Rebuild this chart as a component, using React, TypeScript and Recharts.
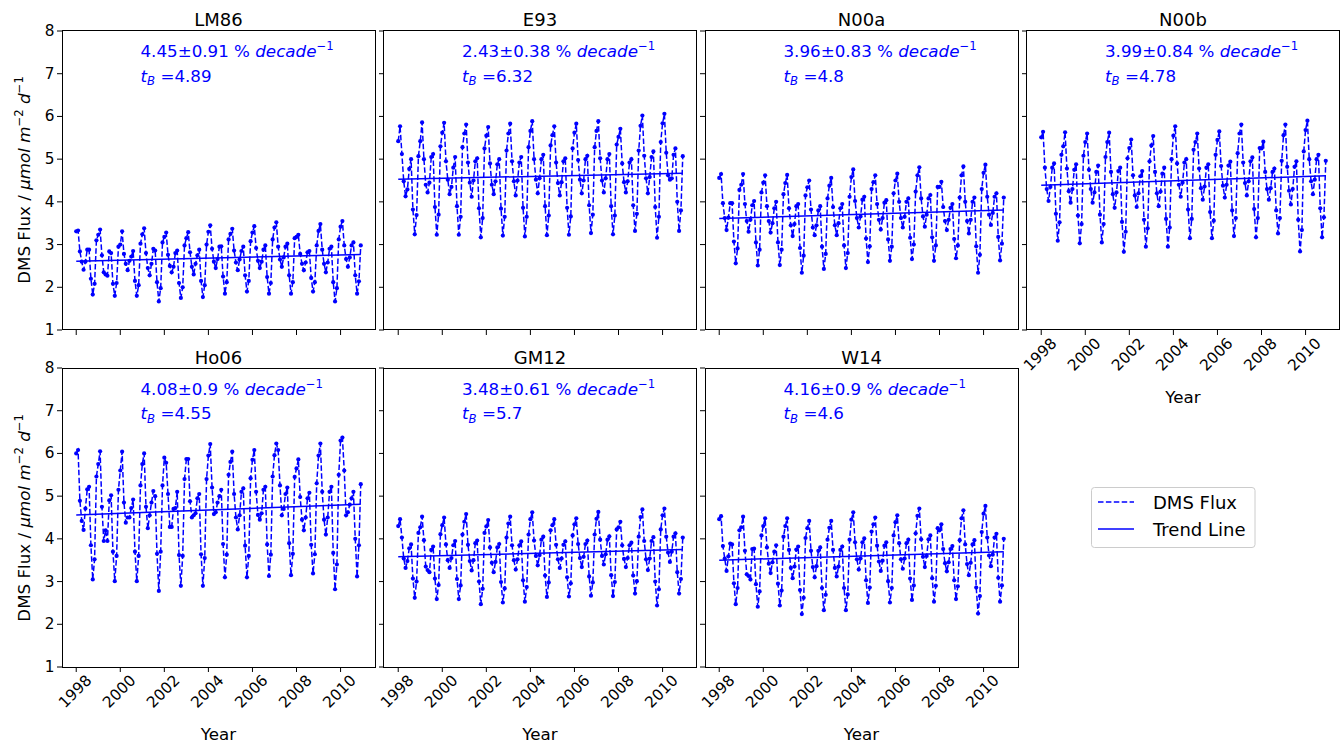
import React from 'react';
import { LineChart, Line, XAxis, YAxis } from 'recharts';

const YEARS = [1998, 1999, 2000, 2001, 2002, 2003, 2004, 2005, 2006, 2007, 2008, 2009, 2010];
const X_TICKS = [1998, 2000, 2002, 2004, 2006, 2008, 2010];
const Y_TICKS = [1, 2, 3, 4, 5, 6, 7, 8];

const lm86Flux = [
  3.31, 3.33, 2.84, 2.60, 2.41, 2.60, 2.88, 2.88, 2.20, 1.83, 2.08, 3.10,
  3.23, 3.35, 2.75, 2.35, 2.30, 2.27, 2.84, 2.80, 2.08, 1.80, 2.10, 2.95,
  3.00, 3.31, 2.78, 2.55, 2.40, 2.62, 2.72, 2.85, 2.15, 1.80, 2.05, 3.02,
  3.24, 3.38, 2.80, 2.45, 2.28, 2.55, 2.90, 2.86, 2.12, 1.67, 1.98, 3.05,
  3.18, 3.28, 2.76, 2.50, 2.35, 2.48, 2.80, 2.86, 2.10, 1.75, 2.00, 2.98,
  3.15, 3.29, 2.82, 2.48, 2.30, 2.55, 2.75, 2.88, 2.15, 1.77, 2.05, 3.00,
  3.30, 3.45, 2.90, 2.60, 2.45, 2.66, 2.95, 2.96, 2.25, 1.85, 2.12, 3.12,
  3.25, 3.37, 2.86, 2.58, 2.40, 2.65, 2.85, 2.95, 2.28, 1.90, 2.15, 3.08,
  3.28, 3.43, 2.92, 2.62, 2.45, 2.60, 2.88, 2.98, 2.24, 1.85, 2.10, 3.12,
  3.40, 3.52, 2.95, 2.65, 2.48, 2.70, 2.95, 3.02, 2.28, 1.85, 2.12, 3.15,
  3.18, 3.23, 2.78, 2.55, 2.40, 2.58, 2.82, 2.85, 2.22, 1.90, 2.12, 2.98,
  3.32, 3.48, 2.88, 2.55, 2.35, 2.58, 2.90, 2.95, 2.12, 1.67, 1.98, 3.12,
  3.42, 3.55, 2.98, 2.66, 2.48, 2.70, 2.98, 3.05, 2.28, 1.85, 2.14, 2.98,
];

const e93Flux = [
  5.42, 5.77, 5.12, 4.48, 4.13, 4.29, 4.77, 5.00, 3.82, 3.24, 3.69, 5.07,
  5.42, 5.86, 5.00, 4.40, 4.22, 4.45, 5.05, 5.12, 3.88, 3.23, 3.70, 5.30,
  5.62, 5.85, 4.95, 4.52, 4.18, 4.35, 4.80, 5.05, 3.90, 3.23, 3.65, 5.28,
  5.60, 5.81, 4.92, 4.45, 4.12, 4.50, 4.95, 5.02, 3.85, 3.17, 3.62, 5.25,
  5.55, 5.75, 4.90, 4.40, 4.18, 4.48, 4.88, 5.00, 3.84, 3.21, 3.65, 5.20,
  5.60, 5.83, 4.95, 4.48, 4.15, 4.50, 4.92, 5.05, 3.86, 3.19, 3.65, 5.28,
  5.66, 5.89, 5.00, 4.52, 4.20, 4.55, 5.00, 5.10, 3.90, 3.22, 3.68, 5.32,
  5.56, 5.77, 4.92, 4.44, 4.15, 4.46, 4.95, 5.02, 3.86, 3.23, 3.66, 5.25,
  5.62, 5.83, 4.98, 4.52, 4.20, 4.50, 5.00, 5.08, 3.92, 3.27, 3.70, 5.28,
  5.66, 5.89, 5.02, 4.50, 4.22, 4.55, 5.00, 5.12, 3.90, 3.24, 3.68, 5.34,
  5.52, 5.71, 4.90, 4.46, 4.22, 4.48, 4.92, 5.00, 3.92, 3.32, 3.72, 5.20,
  5.78, 6.02, 5.08, 4.55, 4.20, 4.58, 5.05, 5.18, 3.88, 3.16, 3.65, 5.40,
  5.84, 6.06, 5.15, 4.62, 4.52, 4.55, 5.10, 5.25, 4.00, 3.32, 3.80, 5.07,
];

const n00aFlux = [
  4.56, 4.65, 3.97, 3.62, 3.34, 3.63, 3.97, 3.97, 3.07, 2.56, 2.91, 4.28,
  4.40, 4.65, 3.95, 3.55, 3.30, 3.58, 3.92, 4.02, 3.05, 2.51, 2.88, 4.22,
  4.45, 4.62, 3.90, 3.55, 3.28, 3.50, 3.85, 4.00, 3.05, 2.52, 2.88, 4.18,
  4.44, 4.63, 3.85, 3.45, 3.20, 3.48, 3.90, 3.95, 2.92, 2.34, 2.74, 4.15,
  4.34, 4.50, 3.82, 3.40, 3.22, 3.45, 3.80, 3.90, 2.95, 2.43, 2.78, 4.08,
  4.38, 4.56, 3.88, 3.45, 3.22, 3.50, 3.85, 3.95, 2.98, 2.45, 2.80, 4.12,
  4.58, 4.76, 4.02, 3.62, 3.40, 3.66, 4.05, 4.12, 3.14, 2.59, 2.96, 4.30,
  4.46, 4.62, 3.95, 3.58, 3.35, 3.62, 3.98, 4.04, 3.12, 2.62, 2.95, 4.20,
  4.50, 4.66, 4.00, 3.62, 3.40, 3.65, 4.00, 4.08, 3.16, 2.66, 3.00, 4.24,
  4.62, 4.81, 4.08, 3.66, 3.42, 3.70, 4.08, 4.16, 3.17, 2.62, 2.98, 4.35,
  4.35, 4.47, 3.88, 3.55, 3.34, 3.58, 3.86, 3.95, 3.13, 2.68, 2.98, 4.10,
  4.62, 4.83, 4.00, 3.55, 3.26, 3.58, 4.00, 4.10, 2.96, 2.34, 2.76, 4.30,
  4.68, 4.87, 4.12, 3.70, 3.46, 3.74, 4.12, 4.20, 3.18, 2.63, 3.02, 4.10,
];

const n00bFlux = [
  5.51, 5.64, 4.80, 4.30, 4.02, 4.35, 4.80, 4.90, 3.72, 3.09, 3.52, 5.10,
  5.30, 5.63, 4.78, 4.25, 3.98, 4.30, 4.75, 4.88, 3.68, 3.03, 3.48, 5.08,
  5.40, 5.60, 4.75, 4.30, 3.98, 4.22, 4.70, 4.85, 3.70, 3.05, 3.48, 5.05,
  5.40, 5.62, 4.70, 4.18, 3.86, 4.22, 4.72, 4.80, 3.53, 2.83, 3.30, 5.02,
  5.26, 5.46, 4.62, 4.15, 3.88, 4.20, 4.60, 4.72, 3.58, 2.95, 3.38, 4.95,
  5.32, 5.54, 4.70, 4.20, 3.90, 4.24, 4.66, 4.80, 3.60, 2.95, 3.40, 5.00,
  5.55, 5.77, 4.90, 4.40, 4.12, 4.45, 4.92, 5.00, 3.82, 3.15, 3.60, 5.22,
  5.40, 5.60, 4.78, 4.32, 4.05, 4.36, 4.80, 4.88, 3.76, 3.15, 3.56, 5.10,
  5.45, 5.65, 4.84, 4.38, 4.10, 4.40, 4.85, 4.94, 3.80, 3.20, 3.62, 5.14,
  5.60, 5.81, 4.92, 4.44, 4.15, 4.48, 4.95, 5.04, 3.83, 3.17, 3.62, 5.26,
  5.25, 5.41, 4.70, 4.30, 4.05, 4.32, 4.70, 4.78, 3.80, 3.26, 3.62, 4.96,
  5.56, 5.81, 4.82, 4.26, 3.94, 4.30, 4.82, 4.95, 3.58, 2.84, 3.34, 5.18,
  5.68, 5.90, 5.00, 4.48, 4.18, 4.52, 5.00, 5.10, 3.85, 3.17, 3.64, 4.96,
];

const ho06Flux = [
  6.00, 6.08, 4.89, 4.42, 4.21, 4.71, 5.16, 5.22, 3.85, 3.05, 3.52, 5.46,
  5.75, 6.05, 4.75, 3.95, 4.20, 3.95, 4.90, 5.02, 3.70, 3.01, 3.60, 5.15,
  5.60, 6.04, 4.85, 4.38, 4.50, 4.50, 4.72, 4.92, 3.70, 3.01, 3.60, 5.25,
  5.75, 6.00, 4.75, 4.25, 4.55, 4.85, 5.12, 5.00, 3.65, 2.78, 3.70, 5.25,
  5.90, 5.78, 5.05, 4.28, 4.28, 4.70, 4.72, 5.10, 3.62, 2.90, 3.60, 5.40,
  5.87, 5.87, 4.88, 4.50, 4.55, 4.60, 4.95, 5.05, 3.64, 2.90, 3.55, 5.40,
  5.95, 6.22, 5.20, 4.58, 4.62, 4.85, 5.00, 5.15, 3.88, 3.10, 3.63, 5.50,
  5.80, 6.04, 5.05, 4.50, 4.22, 4.55, 5.10, 5.18, 3.84, 3.10, 3.60, 5.42,
  5.85, 6.08, 5.10, 4.56, 4.45, 4.60, 5.15, 5.22, 3.87, 3.13, 3.63, 5.46,
  5.96, 6.23, 6.08, 5.25, 4.55, 4.70, 5.05, 5.20, 3.90, 3.15, 3.65, 5.45,
  5.65, 5.86, 4.98, 4.45, 4.20, 4.50, 4.95, 5.08, 3.86, 3.19, 3.64, 5.30,
  5.95, 6.23, 5.10, 4.45, 4.10, 4.50, 5.10, 5.22, 3.67, 2.82, 3.40, 5.50,
  6.30, 6.37, 5.60, 4.55, 4.62, 4.80, 4.95, 5.10, 4.00, 3.12, 3.85, 5.28,
];

const gm12Flux = [
  4.30, 4.46, 4.03, 3.54, 3.32, 3.48, 3.78, 3.87, 3.07, 2.62, 3.00, 4.14,
  4.27, 4.52, 3.97, 3.35, 3.27, 3.22, 3.74, 3.82, 3.07, 2.59, 2.92, 4.11,
  4.32, 4.50, 3.87, 3.50, 3.32, 3.55, 3.85, 3.95, 3.06, 2.59, 2.91, 4.10,
  4.40, 4.58, 3.86, 3.48, 3.26, 3.50, 3.90, 3.96, 3.00, 2.47, 2.83, 4.14,
  4.29, 4.44, 3.80, 3.44, 3.22, 3.46, 3.80, 3.88, 2.99, 2.51, 2.84, 4.03,
  4.36, 4.52, 3.85, 3.50, 3.28, 3.52, 3.85, 3.94, 3.03, 2.53, 2.87, 4.10,
  4.46, 4.62, 3.96, 3.60, 3.38, 3.62, 3.98, 4.05, 3.14, 2.64, 2.98, 4.20,
  4.32, 4.46, 3.86, 3.52, 3.32, 3.54, 3.86, 3.94, 3.10, 2.65, 2.96, 4.08,
  4.34, 4.48, 3.88, 3.55, 3.34, 3.58, 3.88, 3.96, 3.12, 2.67, 2.98, 4.10,
  4.47, 4.63, 3.98, 3.60, 3.40, 3.64, 3.98, 4.06, 3.15, 2.66, 2.99, 4.22,
  4.27, 4.40, 3.85, 3.53, 3.34, 3.55, 3.85, 3.91, 3.14, 2.72, 3.01, 4.05,
  4.51, 4.69, 3.95, 3.52, 3.27, 3.54, 3.95, 4.04, 3.00, 2.44, 2.82, 4.22,
  4.55, 4.71, 4.05, 3.68, 3.46, 3.70, 4.05, 4.13, 3.22, 2.72, 3.06, 4.03,
];

const w14Flux = [
  4.46, 4.53, 3.83, 3.54, 3.25, 3.59, 3.89, 3.87, 2.96, 2.47, 2.85, 4.20,
  4.27, 4.52, 3.72, 3.17, 3.13, 3.05, 3.76, 3.77, 2.94, 2.41, 2.77, 4.08,
  4.30, 4.48, 3.80, 3.42, 3.20, 3.45, 3.70, 3.85, 2.95, 2.44, 2.79, 4.05,
  4.30, 4.48, 3.74, 3.32, 3.08, 3.35, 3.75, 3.82, 2.80, 2.24, 2.62, 4.02,
  4.25, 4.42, 3.72, 3.34, 3.10, 3.36, 3.72, 3.80, 2.85, 2.33, 2.69, 3.98,
  4.26, 4.42, 3.74, 3.32, 3.12, 3.35, 3.74, 3.82, 2.85, 2.33, 2.70, 3.98,
  4.45, 4.62, 3.92, 3.52, 3.28, 3.54, 3.92, 4.01, 3.03, 2.50, 2.86, 4.17,
  4.34, 4.50, 3.84, 3.47, 3.25, 3.49, 3.84, 3.92, 3.01, 2.51, 2.85, 4.08,
  4.39, 4.55, 3.90, 3.52, 3.30, 3.54, 3.90, 3.98, 3.07, 2.57, 2.91, 4.13,
  4.54, 4.71, 3.99, 3.58, 3.34, 3.60, 3.99, 4.08, 3.08, 2.53, 2.90, 4.25,
  4.20, 4.34, 3.76, 3.43, 3.24, 3.45, 3.76, 3.83, 3.03, 2.59, 2.89, 3.97,
  4.48, 4.67, 3.87, 3.41, 3.15, 3.44, 3.87, 3.97, 2.86, 2.25, 2.66, 4.16,
  4.59, 4.77, 4.03, 3.61, 3.36, 3.63, 4.03, 4.12, 3.09, 2.53, 2.91, 4.00,
];

// trend line end values (Jan 1998, Dec 2010)
const lm86Trend = [2.61, 2.77];
const e93Trend = [4.53, 4.67];
const n00aTrend = [3.61, 3.81];
const n00bTrend = [4.39, 4.61];
const ho06Trend = [4.56, 4.81];
const gm12Trend = [3.58, 3.75];
const w14Trend = [3.50, 3.70];

const panelNames = ['LM86', 'E93', 'N00a', 'N00b', 'Ho06', 'GM12', 'W14'];
const trendRates = ['4.45±0.91', '2.43±0.38', '3.96±0.83', '3.99±0.84', '4.08±0.9', '3.48±0.61', '4.16±0.9'];
const tBValues = ['4.89', '6.32', '4.8', '4.78', '4.55', '5.7', '4.6'];
const fluxSets = [lm86Flux, e93Flux, n00aFlux, n00bFlux, ho06Flux, gm12Flux, w14Flux];
const trendSets = [lm86Trend, e93Trend, n00aTrend, n00bTrend, ho06Trend, gm12Trend, w14Trend];

// layout
const FONT = "'DejaVu Sans', sans-serif";
const BLUE = '#0000ff';
const PLOT_W = 313;
const PLOT_H = 299;
const ML = 60;
const MT = 10;
const MR = 10;
const MB = 60;
const COL_LEFT = [62, 383.5, 705, 1026.5];
const ROW_TOP = [30.5, 368.3];
const panelPos = [
  { col: 0, row: 0, showX: false, showY: true },
  { col: 1, row: 0, showX: false, showY: false },
  { col: 2, row: 0, showX: false, showY: false },
  { col: 3, row: 0, showX: true, showY: false },
  { col: 0, row: 1, showX: true, showY: true },
  { col: 1, row: 1, showX: true, showY: false },
  { col: 2, row: 1, showX: true, showY: false },
];

function toSeries(values: number[]) {
  return values.map((v, i) => ({ t: YEARS[Math.floor(i / 12)] + (i % 12) / 12, v }));
}
function toTrend(tr: number[]) {
  return [
    { t: YEARS[0], v: tr[0] },
    { t: YEARS[YEARS.length - 1] + 11 / 12, v: tr[1] },
  ];
}

const EmptyTick = () => <g />;

const XTick = (props: any) => {
  const { x, payload } = props;
  const cx = x - 1;
  const cy = MT + PLOT_H + 24.5;
  return (
    <text
      x={cx}
      y={cy}
      transform={`rotate(-45, ${cx}, ${cy})`}
      textAnchor="middle"
      dominantBaseline="central"
      fontFamily={FONT}
      fontSize={15.3}
      fill="#000"
    >
      {payload.value}
    </text>
  );
};

const YTick = (props: any) => {
  const { y, payload } = props;
  return (
    <text
      x={ML - 7.5}
      y={y}
      textAnchor="end"
      dominantBaseline="central"
      fontFamily={FONT}
      fontSize={15.3}
      fill="#000"
    >
      {payload.value}
    </text>
  );
};

function Panel({ idx }: { idx: number }) {
  const pos = panelPos[idx];
  const left = COL_LEFT[pos.col];
  const top = ROW_TOP[pos.row];
  const series = toSeries(fluxSets[idx]);
  const trend = toTrend(trendSets[idx]);
  return (
    <div style={{ position: 'absolute', left: left - ML, top: top - MT }}>
      <LineChart
        width={ML + PLOT_W + MR}
        height={MT + PLOT_H + MB}
        margin={{ top: MT, right: MR, left: 0, bottom: 0 }}
      >
        <XAxis
          type="number"
          dataKey="t"
          domain={[1997.354, 2011.563]}
          ticks={X_TICKS}
          interval={0}
          allowDataOverflow
          height={MB}
          tickSize={5}
          axisLine={false}
          tickLine={{ stroke: '#000', strokeWidth: 1 }}
          tick={pos.showX ? <XTick /> : <EmptyTick />}
        />
        <YAxis
          type="number"
          domain={[1, 8]}
          ticks={Y_TICKS}
          interval={0}
          allowDataOverflow
          width={ML}
          tickSize={5}
          axisLine={false}
          tickLine={{ stroke: '#000', strokeWidth: 1 }}
          tick={pos.showY ? <YTick /> : <EmptyTick />}
        />
        <Line
          data={series}
          dataKey="v"
          type="linear"
          stroke={BLUE}
          strokeWidth={1.5}
          strokeDasharray="5.5 2.4"
          dot={{ r: 2.1, fill: BLUE, stroke: 'none', strokeWidth: 0 }}
          activeDot={false}
          isAnimationActive={false}
        />
        <Line
          data={trend}
          dataKey="v"
          type="linear"
          stroke={BLUE}
          strokeWidth={1.5}
          dot={false}
          activeDot={false}
          isAnimationActive={false}
        />
      </LineChart>
      <div
        style={{
          position: 'absolute',
          left: ML - 0.5,
          top: MT - 0.5,
          width: PLOT_W + 1,
          height: PLOT_H + 1,
          border: '1px solid #000',
          boxSizing: 'border-box',
          pointerEvents: 'none',
        }}
      />
    </div>
  );
}

function Overlay() {
  const yLabel = (cy: number, key: string) => (
    <text
      key={key}
      transform={`translate(29.5, ${cy}) rotate(-90)`}
      textAnchor="middle"
      fontFamily={FONT}
      fontSize={16.7}
      fill="#000"
    >
      DMS Flux / <tspan fontStyle="italic">μmol m</tspan>
      <tspan fontSize={11.7} dy={-6.5}>−2</tspan>
      <tspan fontStyle="italic" dy={6.5}> d</tspan>
      <tspan fontSize={11.7} dy={-6.5}>−1</tspan>
    </text>
  );
  return (
    <svg
      width={1343}
      height={747}
      style={{ position: 'absolute', left: 0, top: 0, pointerEvents: 'none' }}
    >
      {panelPos.map((pos, i) => {
        const left = COL_LEFT[pos.col];
        const top = ROW_TOP[pos.row];
        return (
          <g key={panelNames[i]}>
            <text
              x={left + PLOT_W / 2}
              y={top - 4.5}
              textAnchor="middle"
              fontFamily={FONT}
              fontSize={18}
              fill="#000"
            >
              {panelNames[i]}
            </text>
            <text x={left + 78.5} y={top + 26.3} fontFamily={FONT} fontSize={16.7} fill={BLUE}>
              {trendRates[i]} %{' '}
              <tspan fontStyle="italic">decade</tspan>
              <tspan fontSize={11.7} dy={-6.8}>−1</tspan>
            </text>
            <text x={left + 78.5} y={top + 51} fontFamily={FONT} fontSize={16.7} fill={BLUE}>
              <tspan fontStyle="italic">t</tspan>
              <tspan fontStyle="italic" fontSize={11.7} dy={3.2}>B</tspan>
              <tspan dy={-3.2}> ={tBValues[i]}</tspan>
            </text>
            {pos.showX && (
              <text
                x={left + PLOT_W / 2}
                y={top + PLOT_H + 73}
                textAnchor="middle"
                fontFamily={FONT}
                fontSize={16.7}
                fill="#000"
              >
                Year
              </text>
            )}
          </g>
        );
      })}
      {yLabel(ROW_TOP[0] + PLOT_H / 2, 'yl0')}
      {yLabel(ROW_TOP[1] + PLOT_H / 2, 'yl1')}
      <g>
        <rect x={1091.5} y={487.5} width={163.5} height={60} rx={3} fill="#fff" stroke="#cccccc" strokeWidth={1} />
        <line x1={1098} x2={1134} y1={502} y2={502} stroke={BLUE} strokeWidth={1.5} strokeDasharray="5.5 2.4" />
        <line x1={1098} x2={1134} y1={529} y2={529} stroke={BLUE} strokeWidth={1.5} />
        <text x={1153} y={508.5} fontFamily={FONT} fontSize={18} fill="#000">DMS Flux</text>
        <text x={1153} y={535.5} fontFamily={FONT} fontSize={18} fill="#000">Trend Line</text>
      </g>
    </svg>
  );
}

export default function App() {
  return (
    <div style={{ position: 'absolute', left: 0, top: 0, width: 1343, height: 747, background: '#fff', fontFamily: FONT }}>
      {panelNames.map((_, i) => (
        <Panel key={i} idx={i} />
      ))}
      <Overlay />
    </div>
  );
}
